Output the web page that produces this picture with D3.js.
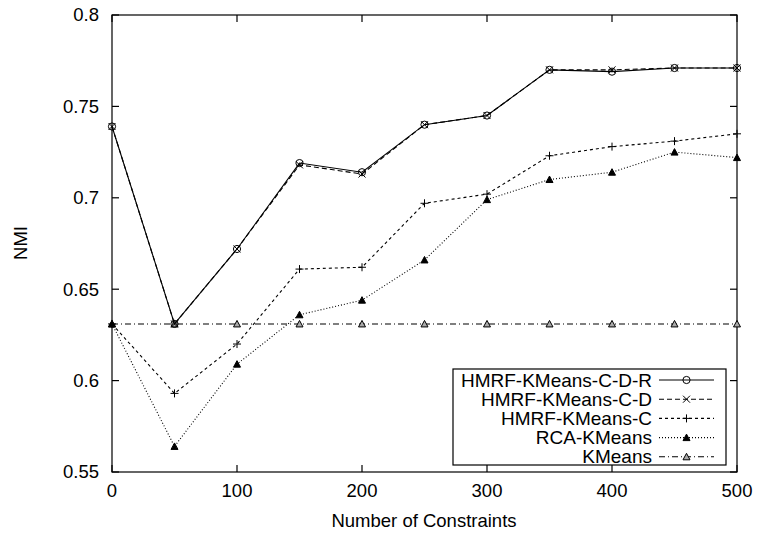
<!DOCTYPE html>
<html>
<head>
<meta charset="utf-8">
<script src="https://cdn.jsdelivr.net/npm/d3@7"></script>
<style>
  body { margin: 0; background: #fff; }
  text { font-family: "Liberation Sans", Arial, sans-serif; fill: #000; }
</style>
</head>
<body>
<script>
// data
let constraints = [0, 50, 100, 150, 200, 250, 300, 350, 400, 450, 500];
let cdr    = [0.739, 0.631, 0.672, 0.719, 0.714, 0.740, 0.745, 0.770, 0.769, 0.771, 0.771];
let cd     = [0.739, 0.631, 0.672, 0.718, 0.713, 0.740, 0.745, 0.770, 0.770, 0.771, 0.771];
let cOnly  = [0.631, 0.593, 0.620, 0.661, 0.662, 0.697, 0.702, 0.723, 0.728, 0.731, 0.735];
let rca    = [0.631, 0.564, 0.609, 0.636, 0.644, 0.666, 0.699, 0.710, 0.714, 0.725, 0.722];
let kmeans = [0.631, 0.631, 0.631, 0.631, 0.631, 0.631, 0.631, 0.631, 0.631, 0.631, 0.631];
let seriesNames = ['HMRF-KMeans-C-D-R', 'HMRF-KMeans-C-D', 'HMRF-KMeans-C', 'RCA-KMeans', 'KMeans'];
let xTicks = [0, 100, 200, 300, 400, 500];
let yTicks = [0.55, 0.6, 0.65, 0.7, 0.75, 0.8];

let frame = { width: 758, height: 535 };
let plot = { left: 112, top: 15, right: 737, bottom: 472 };

let svg = d3.select('body').append('svg')
  .attr('width', frame.width)
  .attr('height', frame.height);

let x = d3.scaleLinear().domain([0, 500]).range([plot.left, plot.right]);
let y = d3.scaleLinear().domain([0.55, 0.8]).range([plot.bottom, plot.top]);

let styles = [
  { values: cdr,    dash: null,      marker: 'circle' },
  { values: cd,     dash: '5,3',     marker: 'cross' },
  { values: cOnly,  dash: '3,3',     marker: 'plus' },
  { values: rca,    dash: '1,2',     marker: 'tri' },
  { values: kmeans, dash: '6,3,1,3', marker: 'otri' }
];

function drawMarker(g, type, px, py) {
  if (type === 'circle') {
    g.append('circle').attr('cx', px).attr('cy', py).attr('r', 3.6)
      .attr('fill', 'none').attr('stroke', '#000').attr('stroke-width', 1);
  } else if (type === 'cross') {
    g.append('path').attr('d', `M${px-3.5},${py-3.5}L${px+3.5},${py+3.5}M${px-3.5},${py+3.5}L${px+3.5},${py-3.5}`)
      .attr('stroke', '#000').attr('stroke-width', 1);
  } else if (type === 'plus') {
    g.append('path').attr('d', `M${px-4},${py}L${px+4},${py}M${px},${py-4}L${px},${py+4}`)
      .attr('stroke', '#000').attr('stroke-width', 1);
  } else {
    g.append('path').attr('d', `M${px-3.5},${py+3}L${px+3.5},${py+3}L${px},${py-3.5}Z`)
      .attr('fill', type === 'tri' ? '#000' : '#aaa')
      .attr('stroke', '#000').attr('stroke-width', 1);
  }
}

// frame
svg.append('rect')
  .attr('x', plot.left).attr('y', plot.top)
  .attr('width', plot.right - plot.left).attr('height', plot.bottom - plot.top)
  .attr('fill', 'none').attr('stroke', '#000').attr('stroke-width', 1.2);

// y ticks (both sides, inward)
let ty = svg.append('g');
yTicks.forEach(t => {
  ty.append('line').attr('x1', plot.left).attr('x2', plot.left + 7)
    .attr('y1', y(t)).attr('y2', y(t)).attr('stroke', '#000').attr('stroke-width', 1.2);
  ty.append('line').attr('x1', plot.right).attr('x2', plot.right - 7)
    .attr('y1', y(t)).attr('y2', y(t)).attr('stroke', '#000').attr('stroke-width', 1.2);
  ty.append('text').attr('x', plot.left - 13).attr('y', y(t)).attr('dy', '0.35em')
    .attr('text-anchor', 'end').style('font-size', '18.5px').text(d3.format('')(t));
});

// x ticks
let tx = svg.append('g');
xTicks.forEach(t => {
  tx.append('line').attr('x1', x(t)).attr('x2', x(t))
    .attr('y1', plot.bottom).attr('y2', plot.bottom - 7).attr('stroke', '#000').attr('stroke-width', 1.2);
  tx.append('line').attr('x1', x(t)).attr('x2', x(t))
    .attr('y1', plot.top).attr('y2', plot.top + 7).attr('stroke', '#000').attr('stroke-width', 1.2);
  tx.append('text').attr('x', x(t)).attr('y', plot.bottom + 25)
    .attr('text-anchor', 'middle').style('font-size', '18.5px').text(t);
});

// axis titles
svg.append('text').attr('x', 424).attr('y', 527)
  .attr('text-anchor', 'middle').style('font-size', '18.5px').text('Number of Constraints');
svg.append('text').attr('transform', 'translate(27,243) rotate(-90)')
  .attr('text-anchor', 'middle').style('font-size', '18.5px').text('NMI');

// series, drawn back to front
let line = d3.line().x((d, i) => x(constraints[i])).y(d => y(d));
styles.slice().reverse().forEach(s => {
  let g = svg.append('g');
  g.append('path').datum(s.values).attr('d', line)
    .attr('fill', 'none').attr('stroke', '#000').attr('stroke-width', 1.1)
    .attr('stroke-dasharray', s.dash);
  s.values.forEach((v, i) => drawMarker(g, s.marker, x(constraints[i]), y(v)));
});

// legend
let lg = svg.append('g');
lg.append('rect').attr('x', 453).attr('y', 369).attr('width', 273).attr('height', 96)
  .attr('fill', '#fff').attr('stroke', '#000').attr('stroke-width', 1.2);
seriesNames.forEach((name, i) => {
  let ly = 380 + i * 19.2;
  let s = styles[i];
  lg.append('text').attr('x', 652).attr('y', ly).attr('dy', '0.35em')
    .attr('text-anchor', 'end').style('font-size', '19px').text(name);
  lg.append('line').attr('x1', 659).attr('x2', 714).attr('y1', ly).attr('y2', ly)
    .attr('stroke', '#000').attr('stroke-width', 1.1).attr('stroke-dasharray', s.dash);
  drawMarker(lg, s.marker, 686.5, ly);
});
</script>
</body>
</html>
